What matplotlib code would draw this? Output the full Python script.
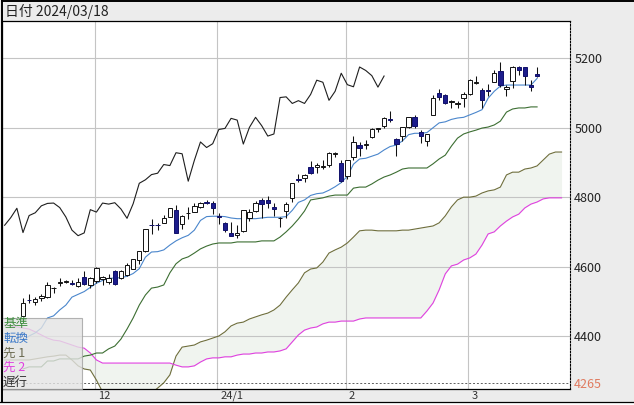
import numpy as np
import matplotlib
matplotlib.use("Agg")
import matplotlib.pyplot as plt
from matplotlib.patches import Rectangle
from matplotlib.transforms import ScaledTranslation

plt.rcParams['font.family'] = ['Noto Sans CJK JP', 'DejaVu Sans']

# ===============================
# data (daily bars 2023/11/14 - 2024/03/18)
# ===============================
dates = [
    "2023-11-14", "2023-11-15", "2023-11-16", "2023-11-17", "2023-11-20", "2023-11-21",
    "2023-11-22", "2023-11-24", "2023-11-27", "2023-11-28", "2023-11-29", "2023-11-30",
    "2023-12-01", "2023-12-04", "2023-12-05", "2023-12-06", "2023-12-07", "2023-12-08",
    "2023-12-11", "2023-12-12", "2023-12-13", "2023-12-14", "2023-12-15", "2023-12-18",
    "2023-12-19", "2023-12-20", "2023-12-21", "2023-12-22", "2023-12-26", "2023-12-27",
    "2023-12-28", "2023-12-29",
    "2024-01-02", "2024-01-03", "2024-01-04", "2024-01-05", "2024-01-08", "2024-01-09",
    "2024-01-10", "2024-01-11", "2024-01-12", "2024-01-16", "2024-01-17", "2024-01-18",
    "2024-01-19", "2024-01-22", "2024-01-23", "2024-01-24", "2024-01-25", "2024-01-26",
    "2024-01-29", "2024-01-30", "2024-01-31",
    "2024-02-01", "2024-02-02", "2024-02-05", "2024-02-06", "2024-02-07", "2024-02-08",
    "2024-02-09", "2024-02-12", "2024-02-13", "2024-02-14", "2024-02-15", "2024-02-16",
    "2024-02-20", "2024-02-21", "2024-02-22", "2024-02-23", "2024-02-26", "2024-02-27",
    "2024-02-28", "2024-02-29",
    "2024-03-01", "2024-03-04", "2024-03-05", "2024-03-06", "2024-03-07", "2024-03-08",
    "2024-03-11", "2024-03-12", "2024-03-13", "2024-03-14", "2024-03-15", "2024-03-18",
]

opens = [4459, 4505, 4497, 4509, 4511, 4538, 4553, 4555, 4554, 4545, 4571, 4548,
         4559, 4564, 4557, 4586, 4568, 4576, 4593, 4618, 4646, 4721, 4720, 4725,
         4743, 4764, 4724, 4753, 4758, 4773, 4787, 4782,
         4745, 4725, 4698, 4690, 4703, 4741, 4759, 4792, 4791, 4772, 4739, 4760,
         4797, 4853, 4856, 4888, 4886, 4888, 4892, 4925, 4899,
         4862, 4916, 4951, 4951, 4973, 4996, 5004, 5026, 4967, 4976, 5003, 5031,
         4989, 4963, 5038, 5100, 5093, 5074, 5067, 5085,
         5098, 5130, 5110, 5109, 5132, 5164, 5111, 5134, 5174, 5176, 5123, 5154]
highs = [4509, 4521, 4512, 4521, 4557, 4542, 4568, 4560, 4562, 4568, 4587, 4569,
         4599, 4572, 4578, 4590, 4590, 4609, 4623, 4643, 4709, 4738, 4725, 4749,
         4768, 4778, 4748, 4772, 4784, 4785, 4793, 4788,
         4754, 4729, 4727, 4721, 4764, 4765, 4790, 4798, 4802, 4782, 4744, 4785,
         4842, 4868, 4866, 4903, 4898, 4906, 4929, 4931, 4906,
         4906, 4975, 4958, 4964, 4999, 5000, 5030, 5048, 4970, 5003, 5032, 5038,
         4994, 4983, 5094, 5111, 5097, 5080, 5077, 5104,
         5140, 5149, 5114, 5127, 5165, 5189, 5124, 5179, 5179, 5176, 5137, 5175]
lows = [4459, 4495, 4488, 4500, 4510, 4525, 4545, 4552, 4546, 4541, 4547, 4537,
        4554, 4546, 4551, 4546, 4565, 4574, 4593, 4608, 4643, 4694, 4704, 4725,
        4743, 4697, 4708, 4736, 4758, 4768, 4780, 4751,
        4722, 4699, 4687, 4682, 4700, 4730, 4756, 4739, 4769, 4747, 4714, 4740,
        4785, 4845, 4844, 4866, 4869, 4881, 4887, 4916, 4845,
        4853, 4907, 4918, 4939, 4969, 4988, 5000, 5016, 4920, 4963, 4999, 4999,
        4956, 4946, 5038, 5081, 5068, 5057, 5058, 5061,
        5094, 5127, 5057, 5092, 5131, 5117, 5091, 5114, 5151, 5123, 5105, 5145]
closes = [4496, 4503, 4508, 4514, 4547, 4538, 4557, 4559, 4550, 4555, 4551, 4568,
          4595, 4570, 4567, 4549, 4586, 4604, 4622, 4644, 4707, 4720, 4719, 4741,
          4768, 4698, 4747, 4755, 4775, 4782, 4783, 4770,
          4743, 4705, 4689, 4697, 4764, 4757, 4783, 4780, 4784, 4766, 4739, 4781,
          4840, 4850, 4865, 4869, 4894, 4891, 4928, 4925, 4846,
          4906, 4959, 4943, 4954, 4995, 4998, 5027, 5022, 4953, 5001, 5030, 5006,
          4976, 4982, 5087, 5089, 5070, 5078, 5070, 5096,
          5137, 5131, 5079, 5105, 5157, 5124, 5118, 5175, 5165, 5150, 5117, 5149]

# 転換線 / 基準線 (bar 0 .. 84)
tenkan = [4388, 4400, 4409, 4423, 4452, 4458, 4475, 4489, 4512, 4520,
          4528, 4540, 4552, 4560, 4566, 4567, 4568, 4572, 4580, 4594,
          4627, 4642, 4643, 4648, 4662, 4674, 4683, 4690, 4705, 4733,
          4744, 4745, 4745, 4744, 4740, 4738, 4738, 4738, 4738, 4740,
          4742, 4742, 4742, 4744, 4762, 4785, 4792, 4805, 4810, 4812,
          4820, 4830, 4842, 4860, 4895, 4910, 4912, 4918, 4924, 4936,
          4946, 4950, 4962, 4980, 4984, 4984, 4986, 5000, 5014, 5017,
          5024, 5028, 5030, 5037, 5044, 5052, 5085, 5105, 5120, 5123,
          5123, 5123, 5123, 5123, 5142]
kijun = [4305, 4311, 4311, 4311, 4328, 4328, 4334, 4334, 4334, 4334,
         4342, 4345, 4351, 4351, 4363, 4371, 4391, 4420, 4452, 4489,
         4518, 4538, 4541, 4547, 4582, 4608, 4622, 4628, 4639, 4651,
         4659, 4665, 4668, 4668, 4668, 4671, 4671, 4671, 4671, 4674,
         4674, 4674, 4685, 4700, 4717, 4737, 4760, 4792, 4795, 4798,
         4803, 4806, 4806, 4806, 4826, 4829, 4829, 4838, 4849, 4858,
         4864, 4872, 4881, 4884, 4884, 4884, 4884, 4896, 4910, 4921,
         4947, 4970, 4982, 4988, 4993, 4999, 5002, 5008, 5019, 5045,
         5054, 5057, 5057, 5060, 5060]

# 先行スパン1 / 2 (bar -3 .. 88)
span_start = -3
span1 = [4331, 4331, 4331,
         4331, 4331, 4334, 4337, 4340, 4342, 4345, 4345, 4331, 4314,
         4305, 4302, 4273, 4239, 4225, 4215, 4210, 4208, 4210, 4215,
         4222, 4235, 4250, 4265, 4288, 4342, 4368, 4371, 4374, 4383,
         4388, 4394, 4400, 4412, 4429, 4437, 4440, 4449, 4455, 4461,
         4466, 4475, 4489, 4512, 4533, 4553, 4582, 4593, 4596, 4613,
         4639, 4648, 4656, 4668, 4685, 4703, 4705, 4705, 4703, 4703,
         4703, 4703, 4705, 4705, 4708, 4711, 4714, 4717, 4726, 4746,
         4772, 4792, 4800, 4800, 4803, 4812, 4818, 4821, 4829, 4864,
         4872, 4872, 4881, 4884, 4890, 4907, 4924, 4930, 4930]
span2 = [4432, 4429, 4426,
         4423, 4420, 4412, 4403, 4394, 4388, 4386, 4380, 4374, 4368,
         4365, 4351, 4331, 4322, 4322, 4322, 4322, 4322, 4322, 4322,
         4322, 4322, 4322, 4322, 4322, 4316, 4311, 4311, 4314, 4325,
         4334, 4337, 4337, 4340, 4340, 4345, 4348, 4348, 4351, 4351,
         4354, 4354, 4357, 4363, 4383, 4403, 4417, 4423, 4426, 4435,
         4440, 4440, 4443, 4443, 4443, 4449, 4452, 4452, 4452, 4452,
         4452, 4452, 4452, 4452, 4452, 4452, 4472, 4495, 4533, 4579,
         4602, 4607, 4619, 4625, 4636, 4662, 4694, 4700, 4717, 4731,
         4743, 4751, 4769, 4780, 4786, 4795, 4798, 4798, 4798]

lag_shift = 25
min_price = 4265
price_ticks = [4400, 4600, 4800, 5000, 5200]
month_labels = ["12", "24/1", "2", "3"]
title_text = "日付 2024/03/18"

# ===============================
# figure / axes
# ===============================
W, H = 634, 405
fig = plt.figure(figsize=(W / 100, H / 100), dpi=100, facecolor="#ececec")
ax = fig.add_axes([2 / W, 1 - 389 / H, 568 / W, 368 / H])
ax.set_facecolor("white")
ax.set_xlim(-3.43, 89.38)
ax.set_ylim(4247.3, 5307.5)

x = np.arange(len(closes))
xs = np.arange(span_start, span_start + len(span1))

# month grid
months = [d[:7] for d in dates]
month_idx = [i for i in range(1, len(months)) if months[i] != months[i - 1]]
grid_x = [i - 0.25 for i in month_idx]
for gx in grid_x:
    ax.axvline(gx, color="#c4c4c4", lw=0.8, zorder=1.5)
for p in price_ticks:
    ax.axhline(p, color="#c4c4c4", lw=0.8, zorder=1.5)
ax.axhline(min_price, color="#606060", lw=0.7, ls=(0, (2, 2)), zorder=1.6)

# cloud
s1 = np.array(span1)
s2 = np.array(span2)
ax.fill_between(xs, s1, s2, color="#f0f4ef", lw=0, zorder=1)
ax.plot(xs, s1, color="#6e6e3c", lw=0.8, zorder=2)
ax.plot(xs, s2, color="#e040e0", lw=0.8, zorder=2)

# lines
ax.plot(x, kijun, color="#3c6e32", lw=0.8, zorder=3)
ax.plot(x, tenkan, color="#4a86cc", lw=0.8, zorder=3)
lag_x = x[lag_shift - 3:] - lag_shift
ax.plot(lag_x, closes[lag_shift - 3:], color="#1e1e1e", lw=0.8, zorder=3)

# candles
o = np.array(opens)
c = np.array(closes)
up = c >= o
body_bot = np.minimum(o, c)
body_h = np.maximum(np.abs(c - o), 1.2)
ax.vlines(x, lows, highs, color="#111111", lw=0.75, zorder=4)
ax.bar(x, body_h, bottom=body_bot, width=0.72,
       color=np.where(up, "white", "#1c1c8c"),
       edgecolor=np.where(up, "#111111", "#10106a"), lw=0.7, zorder=5)

# spines
for s in ["left", "top", "bottom"]:
    ax.spines[s].set_color("black")
    ax.spines[s].set_linewidth(0.9)
ax.spines["right"].set_linestyle((0, (1.5, 1.5)))
ax.spines["right"].set_linewidth(0.8)

# y labels on the right
ax.yaxis.tick_right()
ax.set_yticks([min_price] + price_ticks)
ax.set_yticklabels([str(min_price)] + [str(p) for p in price_ticks])
ax.tick_params(axis="y", length=0, pad=3, labelsize=9, labelcolor="#222222")
ax.get_yticklabels()[0].set_color("#e07a5f")

# x labels
ax.set_xticks([])
off = ScaledTranslation(3 / 100, -7 / 100, fig.dpi_scale_trans)
for gx, lab in zip(grid_x, month_labels):
    ax.text(gx, 0, lab, transform=ax.get_xaxis_transform() + off,
            ha="left", va="center", fontsize=8, color="#333333")

# ===============================
# overlay: title bar, borders, legend box
# ===============================
ov = fig.add_axes([0, 0, 1, 1], zorder=10)
ov.set_xlim(0, W)
ov.set_ylim(H, 0)
ov.axis("off")
ov.patch.set_alpha(0)

ov.text(5, 11, title_text, fontsize=10, va="center", ha="left", color="#222222")
ov.plot([1.5, W], [1.2, 1.2], color="black", lw=1.4)
ov.plot([1.5, 1.5], [1, 402], color="black", lw=1.4)
ov.plot([0, W], [402, 402], color="black", lw=0.9)
ov.add_patch(Rectangle((0, 402.5), W, 3, color="white", lw=0))

ov.add_patch(Rectangle((2, 318), 80, 71, facecolor="#e4e4e4", alpha=0.8,
                       edgecolor="#a0a0a0", lw=0.8))
legend_items = [("基準", "#3c8c3c"), ("転換", "#3a78c8"), ("先 1", "#6a6a50"),
                ("先 2", "#e040e0"), ("遅行", "#333333")]
for k, (lab, col) in enumerate(legend_items):
    ov.text(3, 324 + 14.5 * k, lab, fontsize=9, color=col, va="center", ha="left")

fig.savefig("out.png", dpi=100, facecolor=fig.get_facecolor())
